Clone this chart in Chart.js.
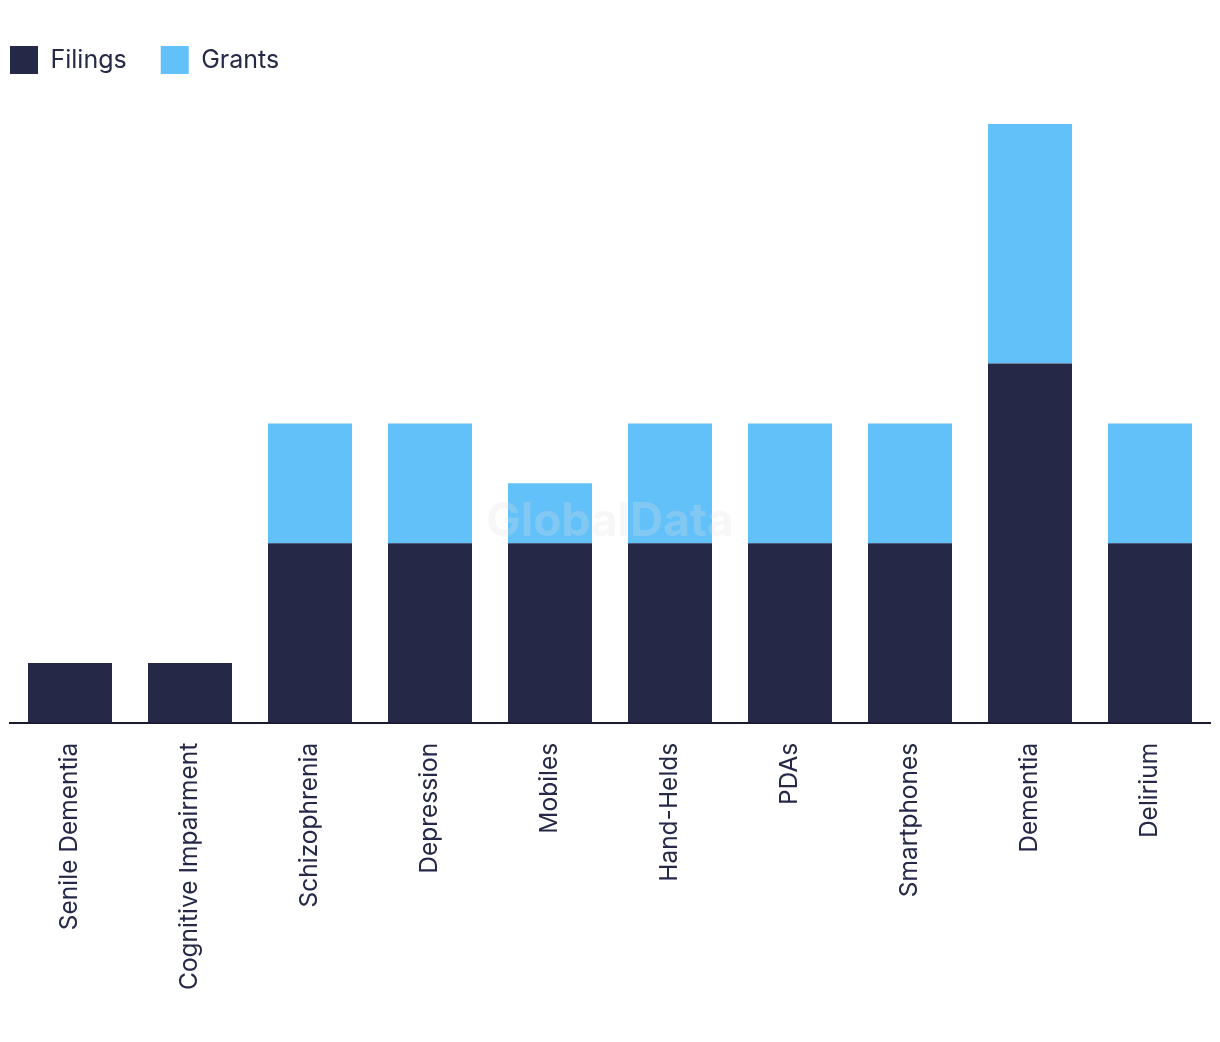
<!DOCTYPE html>
<html>
<head>
<meta charset="utf-8">
<script src="https://cdn.jsdelivr.net/npm/chart.js@4"></script>
<style>
  html, body { margin: 0; padding: 0; background: #fff; }
  #wrap { width: 1220px; height: 1042px; }
</style>
</head>
<body>
<div id="wrap"><canvas id="grafica"></canvas></div>
<script>
const categorias = ["Senile Dementia", "Cognitive Impairment", "Schizophrenia", "Depression", "Mobiles",
  "Hand-Helds", "PDAs", "Smartphones", "Dementia", "Delirium"];
const filings = [1, 1, 3, 3, 3, 3, 3, 3, 6, 3];
const grants = [0, 0, 2, 2, 1, 2, 2, 2, 4, 2];

const colorTexto = "#262847";
const separacionLeyenda = 34;

// marca de agua tenue encima de las barras
const marcaAgua = {
  id: "marcaAgua",
  afterDatasetsDraw(chart) {
    const { ctx, chartArea } = chart;
    ctx.save();
    ctx.font = "bold 46px Inter";
    ctx.fillStyle = "rgba(225,225,225,0.25)";
    ctx.textAlign = "center";
    ctx.textBaseline = "middle";
    ctx.fillText("GlobalData", (chartArea.left + chartArea.right) / 2, 522);
    ctx.restore();
  }
};

// leyenda pegada a la izquierda y con mas espacio debajo
const ajusteLeyenda = {
  id: "ajusteLeyenda",
  beforeInit(chart) {
    const fitOriginal = chart.legend.fit;
    chart.legend.fit = function () {
      fitOriginal.bind(chart.legend)();
      this.height = 112;
    };
  },
  afterLayout(chart) {
    chart.legend.left = 10 - separacionLeyenda;
  }
};

new Chart(document.getElementById("grafica"), {
  type: "bar",
  data: {
    labels: categorias,
    datasets: [
      { label: "Filings", data: filings, backgroundColor: "#262847", categoryPercentage: 0.7, barPercentage: 1 },
      { label: "Grants", data: grants, backgroundColor: "#62c1f9", categoryPercentage: 0.7, barPercentage: 1 }
    ]
  },
  options: {
    responsive: true,
    maintainAspectRatio: false,
    animation: false,
    layout: { padding: { left: 10, right: 10, top: 12, bottom: 32 } },
    plugins: {
      legend: {
        position: "top",
        align: "start",
        labels: {
          boxWidth: 28,
          boxHeight: 28,
          padding: separacionLeyenda,
          color: colorTexto,
          font: { family: "Inter", size: 25 }
        }
      },
      tooltip: { enabled: false }
    },
    scales: {
      x: {
        stacked: true,
        grid: { display: false, drawTicks: false },
        border: { display: true, color: "#1a1a2e", width: 2 },
        ticks: {
          color: colorTexto,
          font: { family: "Inter", size: 24.5 },
          minRotation: 90,
          maxRotation: 90,
          padding: 20
        }
      },
      y: {
        stacked: true,
        display: false,
        min: 0,
        max: 10
      }
    }
  },
  plugins: [marcaAgua, ajusteLeyenda]
});
</script>
</body>
</html>
